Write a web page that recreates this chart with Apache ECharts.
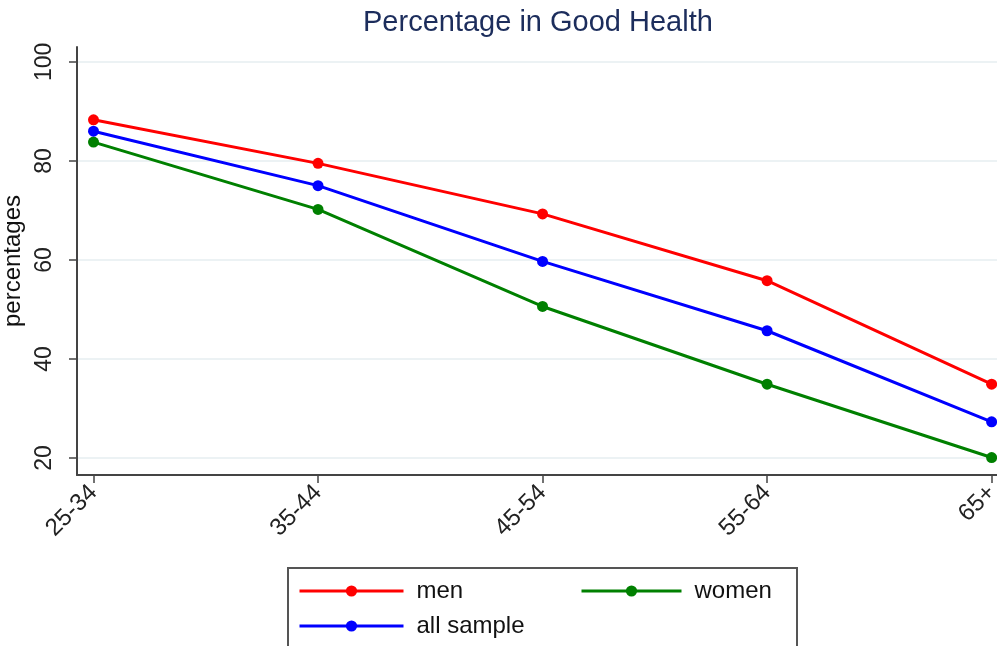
<!DOCTYPE html>
<html lang="en">
<head>
<meta charset="UTF-8">
<title>Percentage in Good Health</title>
<script src="https://cdn.jsdelivr.net/npm/echarts@6/dist/echarts.min.js"></script>
<style>
  html, body { margin: 0; padding: 0; background: #fff; }
  #canvas { width: 997px; height: 646px; }
</style>
</head>
<body>
<div id="canvas"></div>
<script>
// age groups on the x axis
const ageGroups = ['25-34', '35-44', '45-54', '55-64', '65+']
// values (percent in good health)
const menValues = [88.3, 79.5, 69.3, 55.8, 34.9]
const womenValues = [83.8, 70.2, 50.6, 34.9, 20.1]
const allValues = [86.0, 75.0, 59.7, 45.7, 27.3]
const yTicks = [20, 40, 60, 80, 100]

const font = '"Liberation Sans", Arial, sans-serif'

function toPoints(values) {
  return values.map((v, i) => [i, v])
}

function lineSeries(name, color, values) {
  return {
    type: 'line',
    name: name,
    data: toPoints(values),
    symbol: 'circle',
    symbolSize: 11,
    lineStyle: { color: color, width: 3 },
    itemStyle: { color: color },
    z: 3
  }
}

// one legend per entry so the two columns line up like the original
function legendItem(name, left, top, iconWidth) {
  return {
    data: [name],
    left: left,
    top: top,
    padding: 0,
    itemWidth: iconWidth,
    itemHeight: 14,
    selectedMode: false,
    lineStyle: { width: 3 },
    textStyle: { fontFamily: font, fontSize: 24, color: '#111', padding: [0, 0, 0, 8] }
  }
}

const option = {
  animation: false,
  backgroundColor: '#fff',
  title: {
    text: 'Percentage in Good Health',
    left: 363,
    top: 8,
    padding: 0,
    textStyle: { fontFamily: font, fontSize: 29, fontWeight: 'normal', color: '#1c2d5c' }
  },
  legend: [
    legendItem('men', 298, 579, 104),
    legendItem('women', 580, 579, 100),
    legendItem('all sample', 298, 614, 104)
  ],
  graphic: [{
    type: 'rect',
    shape: { x: 288, y: 568, width: 509, height: 100 },
    style: { fill: 'none', stroke: '#555', lineWidth: 2 },
    silent: true
  }],
  grid: { left: 77, right: 0, top: 47, bottom: 171, containLabel: false, outerBoundsMode: 'none' },
  xAxis: {
    type: 'value',
    min: -0.0735,
    max: 4.024,
    axisLine: { onZero: false, lineStyle: { color: '#444', width: 2 } },
    axisTick: { show: true, length: 8, customValues: [0, 1, 2, 3, 4], lineStyle: { color: '#444', width: 1.5 } },
    splitLine: { show: false },
    axisLabel: {
      customValues: [0, 1, 2, 3, 4],
      formatter: v => ageGroups[Math.round(v)],
      rotate: 45,
      margin: 14,
      fontFamily: font,
      fontSize: 24,
      color: '#222'
    }
  },
  yAxis: {
    type: 'value',
    min: 16.57,
    max: 103.0,
    name: 'percentages',
    nameLocation: 'middle',
    nameGap: 43,
    nameRotate: 90,
    nameTextStyle: { fontFamily: font, fontSize: 24, color: '#111' },
    axisLine: { show: true, onZero: false, lineStyle: { color: '#444', width: 2 } },
    axisTick: { show: true, length: 8, customValues: yTicks, lineStyle: { color: '#444', width: 1.5 } },
    splitLine: { show: true, lineStyle: { color: '#e6eef1', width: 1.5 } },
    axisLabel: {
      customValues: yTicks,
      rotate: 90,
      margin: 21,
      fontFamily: font,
      fontSize: 23,
      color: '#222'
    }
  },
  series: [
    lineSeries('men', '#ff0000', menValues),
    lineSeries('women', '#008000', womenValues),
    lineSeries('all sample', '#0000ff', allValues)
  ]
}

const chart = echarts.init(document.getElementById('canvas'), null, { renderer: 'canvas' })
chart.setOption(option)
</script>
</body>
</html>
